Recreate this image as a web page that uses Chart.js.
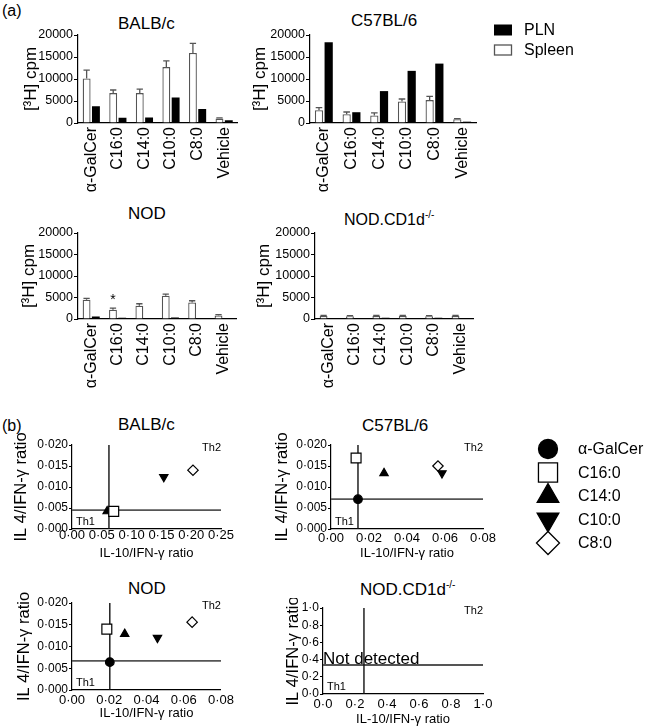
<!DOCTYPE html>
<html>
<head>
<meta charset="utf-8">
<script src="https://cdn.jsdelivr.net/npm/chart.js@4.4.1/dist/chart.umd.min.js"></script>
<style>
  body { margin: 0; background: #fff; width: 648px; height: 727px; position: relative; overflow: hidden;
         font-family: "Liberation Sans", Arial, sans-serif; color: #000; }
  canvas { position: absolute; }
  .lbl { position: absolute; font-size: 17px; line-height: 17px; white-space: nowrap; }
  .lbl sup { font-size: 10px; line-height: 0; vertical-align: 7px; }
</style>
</head>
<body>
<div class="lbl" style="left:2px;top:3px;font-size:16px;line-height:16px">(a)</div>
<div class="lbl" style="left:2px;top:418px;font-size:16px;line-height:16px">(b)</div>

<div class="lbl" style="left:118px;top:15px">BALB/c</div>
<div class="lbl" style="left:351px;top:12px">C57BL/6</div>
<div class="lbl" style="left:128px;top:205px">NOD</div>
<div class="lbl" style="left:344px;top:211px;font-size:16px">NOD.CD1d<sup>-/-</sup></div>

<div class="lbl" style="left:118px;top:416px">BALB/c</div>
<div class="lbl" style="left:362px;top:417px">C57BL/6</div>
<div class="lbl" style="left:128px;top:580px">NOD</div>
<div class="lbl" style="left:360px;top:581px">NOD.CD1d<sup>-/-</sup></div>

<canvas id="barBalb"></canvas>
<canvas id="barB6"></canvas>
<canvas id="barNod"></canvas>
<canvas id="barCd1d"></canvas>
<canvas id="ratioBalb"></canvas>
<canvas id="ratioB6"></canvas>
<canvas id="ratioNod"></canvas>
<canvas id="ratioCd1d"></canvas>

<script>
// ---- (a) proliferation, [3H] cpm ----
const agents = ['α-GalCer', 'C16:0', 'C14:0', 'C10:0', 'C8:0', 'Vehicle'];
const cpmTicks = [0, 5000, 10000, 15000, 20000];

const balbSpleen    = [10100, 6800, 6800, 12700, 15900, 1000];
const balbSpleenErr = [1900, 700, 900, 1400, 2200, 150];
const balbPLN       = [3800, 1200, 1250, 5800, 3200, 600];

const b6Spleen    = [2900, 2000, 1700, 4900, 5200, 850];
const b6SpleenErr = [600, 500, 600, 550, 850, 150];
const b6PLN       = [18350, 2450, 7250, 11850, 13500, 300];

const nodSpleen    = [4500, 2150, 3100, 5400, 3850, 800];
const nodSpleenErr = [300, 400, 450, 400, 400, 200];
const nodPLN       = [600, 300, 150, 370, 150, 250];
const nodMarks     = ['', '*', '', '', '', ''];

const cd1dSpleen    = [700, 650, 700, 700, 650, 700];
const cd1dSpleenErr = [150, 150, 150, 150, 150, 150];
const cd1dPLN       = [250, 250, 300, 250, 300, 200];

// ---- (b) cytokine ratios ----
const compounds = ['α-GalCer', 'C16:0', 'C14:0', 'C10:0', 'C8:0'];

const balbIL10 = [null, 0.070, 0.059, 0.154, 0.203];
const balbIL4  = [null, 0.0042, 0.0042, 0.0124, 0.0140];
const balbCut  = [0.062, 0.0045];

const b6IL10 = [0.0142, 0.0132, 0.0279, 0.0584, 0.0563];
const b6IL4  = [0.0071, 0.0169, 0.0133, 0.0133, 0.0150];
const b6Cut  = [0.0142, 0.0071];

const nodIL10 = [0.0203, 0.0187, 0.0283, 0.0459, 0.0645];
const nodIL4  = [0.0064, 0.0140, 0.0129, 0.0120, 0.0156];
const nodCut  = [0.0203, 0.0067];

const cd1dIL10 = [null, null, null, null, null];
const cd1dIL4  = [null, null, null, null, null];
const cd1dCut  = [0.256, 0.337];

const il10TicksBalb = [0, 0.05, 0.10, 0.15, 0.20, 0.25];
const il10TicksNod  = [0, 0.02, 0.04, 0.06, 0.08];
const il4Ticks      = [0, 0.005, 0.010, 0.015, 0.020];
const unitTicks     = [0, 0.2, 0.4, 0.6, 0.8, 1.0];

const FAM = '"Liberation Sans", Arial, sans-serif';
Chart.defaults.font.family = FAM;
Chart.defaults.color = '#000';

const markers = [
  { style: 'circle',   rotation: 0,   radius: 4.3, legendRadius: 9.5,  fill: '#000' },
  { style: 'rect',     rotation: 0,   radius: 7,   legendRadius: 13.5, fill: '#fff' },
  { style: 'triangle', rotation: 0,   radius: 4.8, legendRadius: 12.5, fill: '#000' },
  { style: 'triangle', rotation: 180, radius: 4.8, legendRadius: 12.5, fill: '#000' },
  { style: 'rectRot',  rotation: 0,   radius: 5.2, legendRadius: 11.5, fill: '#fff' }
];

function dot(v, d) { return v.toFixed(d).replace('.', '·'); }

// canvas frame from the wanted plot area
function frame(area, titleX, titleSize, padTop, padRight, xHeight) {
  const x = Math.round(titleX - titleSize * 0.6);
  const y = Math.round(area.t) - padTop;
  return { x, y, w: Math.round(area.r) + padRight - x, h: Math.round(area.b) + xHeight - y,
           yWidth: Math.round(area.l) - x, xHeight, padTop, padRight };
}
function mount(id, f) {
  const c = document.getElementById(id);
  c.width = f.w; c.height = f.h;
  c.style.left = f.x + 'px'; c.style.top = f.y + 'px';
  return c;
}

// error bars + significance marks on the spleen bars
const errorBars = {
  id: 'errorBars',
  afterDatasetsDraw(chart) {
    const ctx = chart.ctx, ys = chart.scales.y;
    chart.data.datasets.forEach((ds, di) => {
      if (!ds.errors) return;
      const meta = chart.getDatasetMeta(di);
      ctx.save();
      ctx.strokeStyle = ds.borderColor;
      ctx.lineWidth = 1.3;
      meta.data.forEach((bar, i) => {
        const top = ys.getPixelForValue(ds.data[i] + ds.errors[i]);
        ctx.beginPath();
        ctx.moveTo(bar.x, bar.y);
        ctx.lineTo(bar.x, top);
        ctx.moveTo(bar.x - bar.width * 0.4, top);
        ctx.lineTo(bar.x + bar.width * 0.4, top);
        ctx.stroke();
        if (ds.marks && ds.marks[i]) {
          ctx.fillStyle = '#000';
          ctx.font = '14px ' + FAM;
          ctx.textAlign = 'center';
          ctx.textBaseline = 'middle';
          ctx.fillText(ds.marks[i], bar.x, top - 8);
        }
      });
      ctx.restore();
    });
  }
};

// legend placed beside the plot area
const sideLegend = {
  id: 'sideLegend',
  afterDraw(chart, args, o) {
    if (!o || !o.display) return;
    const ctx = chart.ctx, a = chart.chartArea;
    let items = chart.data.datasets.filter(d => !d.ref);
    if (o.reverse) items = items.slice().reverse();
    ctx.save();
    items.forEach((d, i) => {
      const y = a.top + o.dy + i * o.step;
      const x = a.right + o.dx;
      ctx.fillStyle = d.backgroundColor;
      ctx.strokeStyle = d.borderColor;
      ctx.lineWidth = 1.3;
      if (o.kind === 'box') {
        ctx.fillRect(x, y - o.boxH / 2, o.boxW, o.boxH);
        if (d.borderWidth) ctx.strokeRect(x + 0.5, y - o.boxH / 2 + 0.5, o.boxW - 1, o.boxH - 1);
      } else {
        Chart.helpers.drawPoint(ctx, { pointStyle: d.pointStyle, rotation: d.pointRotation,
          radius: d.legendRadius, borderWidth: 1.3 }, x, y);
      }
      ctx.fillStyle = '#000';
      ctx.font = '16px ' + FAM;
      ctx.textAlign = 'left';
      ctx.textBaseline = 'middle';
      ctx.fillText(d.label, a.right + o.textDx, y + 1);
    });
    ctx.restore();
  }
};

// Th1 / Th2 quadrant labels and notes
const quadrants = {
  id: 'quadrants',
  afterDatasetsDraw(chart, args, o) {
    const ctx = chart.ctx, a = chart.chartArea;
    ctx.save();
    ctx.fillStyle = '#000';
    ctx.font = '11px ' + FAM;
    ctx.textBaseline = 'middle';
    ctx.textAlign = 'right';
    ctx.fillText('Th2', a.right, a.top + 3);
    ctx.textAlign = 'left';
    ctx.fillText('Th1', a.left + 4, a.bottom - 7);
    if (o && o.note) {
      ctx.font = '17px ' + FAM;
      ctx.textBaseline = 'alphabetic';
      ctx.fillText(o.note, a.left, chart.scales.y.getPixelForValue(o.noteAt) - 1);
    }
    ctx.restore();
  }
};

function barChart(id, f, spleen, err, pln, marks, legend) {
  return new Chart(mount(id, f), {
    type: 'bar',
    data: {
      labels: agents,
      datasets: [
        { label: 'Spleen', data: spleen, errors: err, marks: marks,
          backgroundColor: '#fff', borderColor: '#555', borderWidth: 1.3 },
        { label: 'PLN', data: pln, backgroundColor: '#000', borderColor: '#000', borderWidth: 0 }
      ]
    },
    options: {
      responsive: false,
      animation: false,
      layout: { padding: { top: f.padTop, right: f.padRight, left: 0, bottom: 0 } },
      datasets: { bar: { categoryPercentage: 0.7, barPercentage: 0.85 } },
      plugins: {
        legend: { display: false },
        tooltip: { enabled: false },
        sideLegend: legend || { display: false }
      },
      scales: {
        x: {
          afterFit: s => { s.height = f.xHeight; },
          grid: { display: false, drawTicks: false },
          border: { color: '#000', width: 1.2 },
          ticks: { font: { size: 16 }, minRotation: 90, maxRotation: 90, autoSkip: false, padding: 4 }
        },
        y: {
          min: cpmTicks[0],
          max: cpmTicks[cpmTicks.length - 1],
          afterFit: s => { s.width = f.yWidth; },
          afterBuildTicks: s => { s.ticks = cpmTicks.map(v => ({ value: v })); },
          grid: { drawOnChartArea: false, tickLength: 4, color: '#000' },
          border: { color: '#000', width: 1.2 },
          ticks: { font: { size: 12.5 }, padding: 1, autoSkip: false, callback: v => String(v) },
          title: { display: true, text: '[³H] cpm', font: { size: 17 }, padding: 0 }
        }
      }
    },
    plugins: [errorBars, sideLegend]
  });
}

function ratioChart(id, f, il10, il4, cut, xTicks, yTicks, xDec, yDec, labelPad, extra) {
  const xMin = xTicks[0], xMax = xTicks[xTicks.length - 1];
  const yMin = yTicks[0], yMax = yTicks[yTicks.length - 1];
  const points = compounds.map((name, i) => ({
    label: name,
    data: il10[i] == null ? [] : [{ x: il10[i], y: il4[i] }],
    pointStyle: markers[i].style,
    pointRotation: markers[i].rotation,
    pointRadius: markers[i].radius,
    pointHoverRadius: markers[i].radius,
    legendRadius: markers[i].legendRadius,
    backgroundColor: markers[i].fill,
    borderColor: '#000',
    borderWidth: 1.2,
    order: 1
  }));
  const lines = [
    { ref: true, data: [{ x: cut[0], y: yMin }, { x: cut[0], y: yMax }], showLine: true,
      borderColor: '#111', borderWidth: 1.4, pointRadius: 0, order: 5 },
    { ref: true, data: [{ x: xMin, y: cut[1] }, { x: xMax, y: cut[1] }], showLine: true,
      borderColor: '#555', borderWidth: 1.8, pointRadius: 0, order: 5 }
  ];
  return new Chart(mount(id, f), {
    type: 'scatter',
    data: { datasets: points.concat(lines) },
    options: {
      responsive: false,
      animation: false,
      layout: { padding: { top: f.padTop, right: f.padRight, left: 0, bottom: 0 } },
      plugins: {
        legend: { display: false },
        tooltip: { enabled: false },
        sideLegend: (extra && extra.legend) || { display: false },
        quadrants: (extra && extra.quadrants) || {}
      },
      scales: {
        x: {
          type: 'linear', min: xMin, max: xMax,
          afterFit: s => { s.height = f.xHeight; },
          afterBuildTicks: s => { s.ticks = xTicks.map(v => ({ value: v })); },
          grid: { drawOnChartArea: false, drawTicks: false },
          border: { color: '#000', width: 1.2 },
          ticks: { font: { size: 13, lineHeight: 1 }, padding: labelPad, autoSkip: false,
                   minRotation: 0, maxRotation: 0, callback: v => dot(v, xDec) },
          title: { display: true, text: 'IL-10/IFN-γ ratio', font: { size: 13 }, padding: 0 }
        },
        y: {
          type: 'linear', min: yMin, max: yMax,
          afterFit: s => { s.width = f.yWidth; },
          afterBuildTicks: s => { s.ticks = yTicks.map(v => ({ value: v })); },
          grid: { drawOnChartArea: false, tickLength: 3, color: '#000' },
          border: { color: '#000', width: 1.2 },
          ticks: { font: { size: 12 }, padding: 1, autoSkip: false, callback: v => dot(v, yDec) },
          title: { display: true, text: 'IL 4/IFN-γ ratio', font: { size: 16.5 }, padding: 0 }
        }
      }
    },
    plugins: [quadrants, sideLegend]
  });
}

// (a)
barChart('barBalb', frame({ l: 78, r: 240, t: 35, b: 123 }, 31, 17, 10, 8, 78),
  balbSpleen, balbSpleenErr, balbPLN, null, null);
barChart('barB6', frame({ l: 310, r: 476, t: 35, b: 123 }, 260, 17, 24, 172, 78),
  b6Spleen, b6SpleenErr, b6PLN, null,
  { display: true, kind: 'box', reverse: true, dx: 18, textDx: 48, dy: -5, step: 20, boxW: 18, boxH: 11 });
barChart('barNod', frame({ l: 78, r: 239, t: 233, b: 319 }, 29, 17, 10, 8, 78),
  nodSpleen, nodSpleenErr, nodPLN, nodMarks, null);
barChart('barCd1d', frame({ l: 315, r: 476, t: 233, b: 319 }, 264, 17, 10, 8, 78),
  cd1dSpleen, cd1dSpleenErr, cd1dPLN, null, null);

// (b)
ratioChart('ratioBalb', frame({ l: 72, r: 221, t: 445, b: 529 }, 22, 16.5, 12, 16, 32),
  balbIL10, balbIL4, balbCut, il10TicksBalb, il4Ticks, 2, 3, 0, null);
ratioChart('ratioB6', frame({ l: 331, r: 483, t: 445, b: 529 }, 283, 16.5, 12, 165, 32),
  b6IL10, b6IL4, b6Cut, il10TicksNod, il4Ticks, 2, 3, 3,
  { legend: { display: true, kind: 'point', dx: 65, textDx: 95, dy: 4, step: 23.5 } });
ratioChart('ratioNod', frame({ l: 72, r: 222, t: 603, b: 690 }, 25, 16.5, 12, 16, 31),
  nodIL10, nodIL4, nodCut, il10TicksNod, il4Ticks, 2, 3, 4, null);
ratioChart('ratioCd1d', frame({ l: 323, r: 483, t: 608, b: 694 }, 294, 16.5, 10, 16, 33),
  cd1dIL10, cd1dIL4, cd1dCut, unitTicks, unitTicks, 1, 1, 4,
  { quadrants: { note: 'Not detected', noteAt: cd1dCut[1] } });
</script>
</body>
</html>
